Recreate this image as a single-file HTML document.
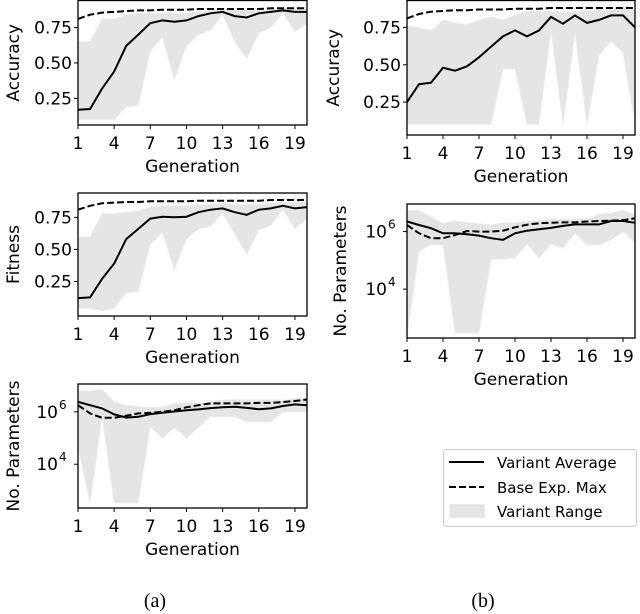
<!DOCTYPE html>
<html><head><meta charset="utf-8"><style>
html,body{margin:0;padding:0;background:#fff;}
svg{display:block;font-family:"DejaVu Sans","Liberation Sans",sans-serif;}
</style></head><body>
<svg id="fig" width="640" height="614" viewBox="0 0 640 614" xmlns="http://www.w3.org/2000/svg">
<g>
<rect x="443.5" y="449.5" width="193" height="77" rx="3" fill="#fff" stroke="#ccc"/>
<line x1="449" y1="462" x2="484" y2="462" stroke="#000" stroke-width="2"/>
<text x="497" y="468" font-size="15">Variant Average</text>
<line x1="449" y1="487" x2="484" y2="487" stroke="#000" stroke-width="2" stroke-dasharray="7,3"/>
<text x="497" y="493" font-size="15">Base Exp. Max</text>
<rect x="450" y="505" width="34" height="12" fill="#e5e5e5" stroke="#ddd"/>
<text x="497" y="517" font-size="15">Variant Range</text>
</g>
<text x="155" y="607" font-size="20" text-anchor="middle" font-family="Liberation Serif, serif">(a)</text>
<text x="483" y="607" font-size="20" text-anchor="middle" font-family="Liberation Serif, serif">(b)</text>
</svg>
<script>
const generations = [1,2,3,4,5,6,7,8,9,10,11,12,13,14,15,16,17,18,19,20];
const xTickLabels = [1,4,7,10,13,16,19];
// Panel (a) accuracy
const accAAvg = [0.17,0.175,0.32,0.44,0.62,0.70,0.78,0.80,0.79,0.80,0.83,0.85,0.86,0.83,0.82,0.85,0.86,0.87,0.86,0.86];
const accAMax = [0.81,0.84,0.855,0.86,0.865,0.87,0.87,0.875,0.875,0.875,0.88,0.88,0.88,0.88,0.88,0.88,0.885,0.885,0.885,0.885];
const accAUpper = [0.65,0.65,0.81,0.81,0.84,0.85,0.85,0.85,0.85,0.85,0.86,0.87,0.88,0.87,0.87,0.87,0.88,0.89,0.89,0.89];
const accALower = [0.10,0.10,0.10,0.10,0.19,0.20,0.58,0.68,0.38,0.62,0.70,0.73,0.84,0.65,0.53,0.71,0.75,0.85,0.72,0.78];
// Panel (a) fitness
const fitAvg = [0.12,0.125,0.27,0.39,0.58,0.66,0.74,0.755,0.75,0.755,0.79,0.81,0.82,0.79,0.77,0.81,0.82,0.84,0.82,0.83];
const fitMax = [0.81,0.84,0.86,0.865,0.87,0.87,0.875,0.875,0.875,0.875,0.88,0.88,0.88,0.88,0.88,0.88,0.885,0.885,0.885,0.885];
const fitUpper = [0.60,0.60,0.78,0.78,0.79,0.80,0.83,0.84,0.84,0.84,0.85,0.85,0.86,0.85,0.85,0.85,0.86,0.87,0.87,0.87];
const fitLower = [0.04,0.04,0.02,0.04,0.16,0.17,0.54,0.63,0.34,0.58,0.66,0.68,0.78,0.62,0.46,0.65,0.69,0.81,0.66,0.74];
// Panel (a) log10 params
const parAAvg = [6.38,6.25,6.13,5.9,5.78,5.81,5.91,5.96,6.01,6.06,6.09,6.14,6.17,6.19,6.15,6.1,6.13,6.22,6.28,6.25];
const parAMax = [6.25,5.94,5.77,5.77,5.85,5.94,5.96,6.0,6.06,6.17,6.25,6.32,6.32,6.32,6.32,6.34,6.34,6.37,6.41,6.47];
const parAUpper = [6.8,6.8,6.85,6.38,6.25,6.19,6.17,6.19,6.32,6.36,6.32,6.42,6.45,6.47,6.45,6.45,6.45,6.45,6.51,6.51];
const parALower = [4.66,2.52,5.81,2.52,2.52,2.52,5.43,4.98,5.4,4.98,5.4,5.81,5.81,5.81,5.62,5.62,5.62,6.0,6.0,6.0];
// Panel (b) accuracy
const accBAvg = [0.25,0.37,0.38,0.48,0.46,0.49,0.55,0.62,0.69,0.73,0.69,0.73,0.82,0.775,0.83,0.78,0.80,0.83,0.83,0.75];
const accBMax = [0.81,0.84,0.855,0.86,0.865,0.865,0.87,0.87,0.87,0.875,0.875,0.875,0.88,0.88,0.88,0.88,0.88,0.88,0.88,0.88];
const accBUpper = [0.76,0.75,0.73,0.80,0.78,0.77,0.80,0.82,0.80,0.83,0.86,0.86,0.86,0.85,0.86,0.86,0.87,0.87,0.88,0.87];
const accBLower = [0.10,0.10,0.10,0.10,0.10,0.10,0.10,0.10,0.47,0.47,0.10,0.10,0.73,0.10,0.71,0.10,0.56,0.66,0.58,0.10];
// Panel (b) log10 params
const parBAvg = [6.35,6.23,6.12,5.94,5.94,5.91,5.86,5.77,5.71,5.94,6.03,6.08,6.13,6.2,6.25,6.25,6.25,6.37,6.37,6.31];
const parBMax = [6.23,5.94,5.77,5.77,5.88,6.02,6.0,6.0,6.03,6.15,6.24,6.29,6.31,6.32,6.32,6.35,6.37,6.38,6.4,6.46];
const parBUpper = [6.75,6.73,6.52,6.29,6.38,6.32,6.27,6.23,6.32,6.32,6.35,6.4,6.43,6.43,6.43,6.43,6.61,6.64,6.75,6.58];
const parBLower = [2.3,5.31,5.54,5.54,2.47,2.47,2.47,5.02,5.04,5.08,5.57,5.08,5.57,5.42,5.94,5.54,5.54,5.71,6.0,5.6];
const linTicks = [0.25,0.5,0.75];
const linTickLabels = ["0.25","0.50","0.75"];
const logTicks = [4,6];

const NS = "http://www.w3.org/2000/svg";
const svg = document.getElementById('fig');
function mk(tag, attrs, parent){const e=document.createElementNS(NS,tag);for(const k in attrs)e.setAttribute(k,attrs[k]);(parent||svg).appendChild(e);return e;}

function panel(p){
  const g = mk('g',{});
  
  
  const x = v => p.x0 + (v-1)*(p.x1-p.x0)/19;
  const y = v => p.yb + (v-p.vmin)*(p.yt-p.yb)/(p.vmax-p.vmin);
  // range fill
  let d = generations.map((gn,i)=>(i?'L':'M')+x(gn).toFixed(1)+','+y(p.upper[i]).toFixed(1)).join('');
  for(let i=generations.length-1;i>=0;i--) d+='L'+x(generations[i]).toFixed(1)+','+y(p.lower[i]).toFixed(1);
  const cp = mk('clipPath',{id:'c'+p.name},g);
  mk('rect',{x:p.x0,y:p.yt,width:p.x1-p.x0,height:p.yb-p.yt},cp);
  const area = mk('path',{d:d+'Z',fill:'#e5e5e5',stroke:'#eee','stroke-width':0.8,'clip-path':'url(#c'+p.name+')'},g);
  
  
  const ld = arr => generations.map((gn,i)=>(i?'L':'M')+x(gn).toFixed(1)+','+y(arr[i]).toFixed(1)).join('');
  const mx = mk('path',{d:ld(p.max),fill:'none',stroke:'#000','stroke-width':2,'stroke-dasharray':'7,3','clip-path':'url(#c'+p.name+')'},g);
  
  
  const av = mk('path',{d:ld(p.avg),fill:'none',stroke:'#000','stroke-width':2,'clip-path':'url(#c'+p.name+')'},g);
  
  
  const box = mk('rect',{x:p.x0,y:p.yt,width:p.x1-p.x0,height:p.yb-p.yt,fill:'none',stroke:'#000','stroke-width':1.3},g);
  
  
  xTickLabels.forEach(t=>{
    mk('line',{x1:x(t),x2:x(t),y1:p.yb,y2:p.yb+4,stroke:'#000'},g);
    const tx = mk('text',{x:x(t),y:p.yb+24,'font-size':17,'text-anchor':'middle'},g);
    tx.textContent = t;
    
    
  });
  const xl = mk('text',{x:(p.x0+p.x1)/2,y:p.yb+47,'font-size':17,'text-anchor':'middle'},g);
  xl.textContent = 'Generation';
  
  
  if(p.log){
    logTicks.forEach(t=>{
      mk('line',{x1:p.x0-4,x2:p.x0,y1:y(t),y2:y(t),stroke:'#000'},g);
      const tx = mk('text',{x:p.x0-20,y:y(t)+6,'font-size':17,'text-anchor':'end'},g);
      tx.textContent='10';
      
      
      const sp = mk('text',{x:p.x0-19,y:y(t)-3,'font-size':12},g);
      sp.textContent=String(t);
      
      
    });
  } else {
    linTicks.forEach((t,i)=>{
      mk('line',{x1:p.x0-4,x2:p.x0,y1:y(t),y2:y(t),stroke:'#000'},g);
      const tx = mk('text',{x:p.x0-6,y:y(t)+6,'font-size':17,'text-anchor':'end'},g);
      tx.textContent=linTickLabels[i];
      
      
    });
  }
  const yl = mk('text',{transform:'translate('+p.ylx+','+((p.yt+p.yb)/2)+') rotate(-90)','font-size':17,'text-anchor':'middle'},g);
  yl.textContent = p.ylabel;
  
  
}
panel({name:'panel-a-accuracy',x0:78,x1:307,yt:0.5,yb:125,vmin:0.0625,vmax:0.94,avg:accAAvg,max:accAMax,upper:accAUpper,lower:accALower,ylabel:'Accuracy',ylx:19});
panel({name:'panel-a-fitness',x0:78,x1:307,yt:193,yb:316,vmin:-0.02,vmax:0.94,avg:fitAvg,max:fitMax,upper:fitUpper,lower:fitLower,ylabel:'Fitness',ylx:19});
panel({name:'panel-a-parameters',x0:78,x1:307,yt:384,yb:508,vmin:2.33,vmax:7.06,log:true,avg:parAAvg,max:parAMax,upper:parAUpper,lower:parALower,ylabel:'No. Parameters',ylx:19});
panel({name:'panel-b-accuracy',x0:407,x1:635,yt:0.5,yb:135,vmin:0.03,vmax:0.93,avg:accBAvg,max:accBMax,upper:accBUpper,lower:accBLower,ylabel:'Accuracy',ylx:339});
panel({name:'panel-b-parameters',x0:407,x1:635,yt:204,yb:338,vmin:2.3,vmax:6.96,log:true,avg:parBAvg,max:parBMax,upper:parBUpper,lower:parBLower,ylabel:'No. Parameters',ylx:346});
</script>
</body></html>
